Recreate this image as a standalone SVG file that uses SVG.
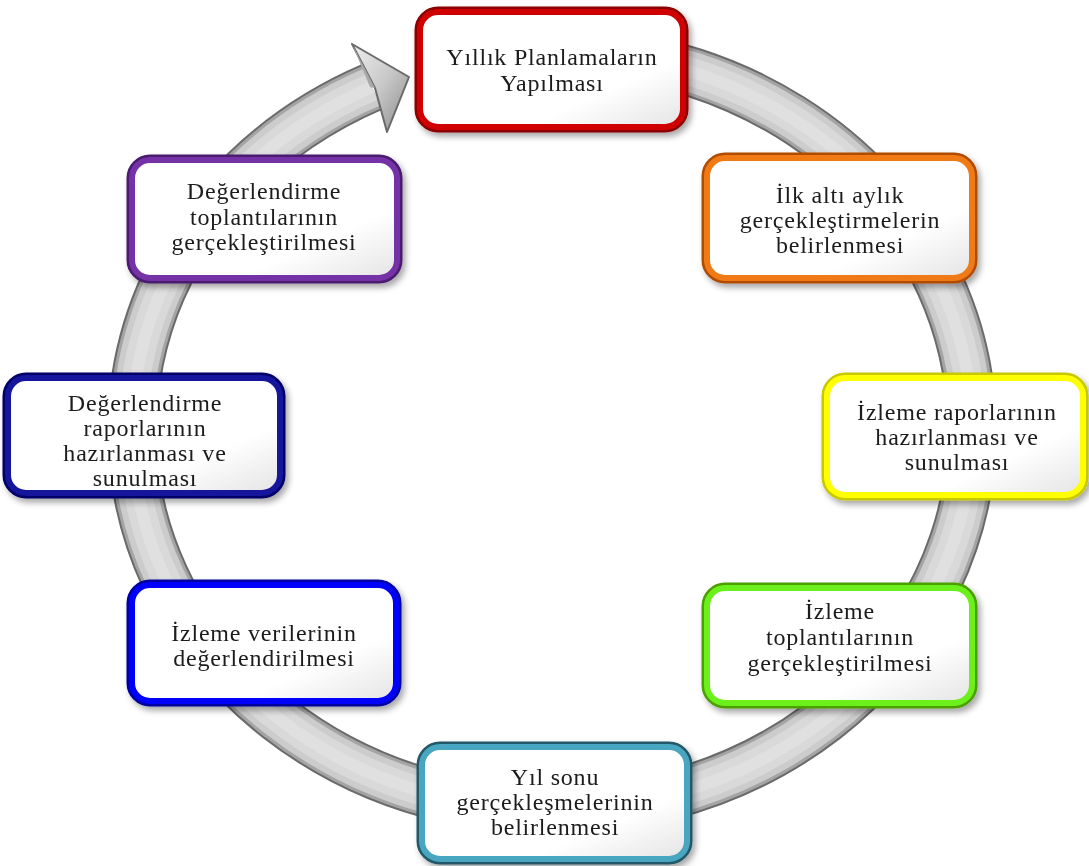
<svg xmlns="http://www.w3.org/2000/svg" width="1089" height="866" viewBox="0 0 1089 866">
<style>
.t{font-family:"Liberation Serif","Times New Roman",serif;font-size:24px;letter-spacing:0.8px;fill:#1a1a1a;text-anchor:middle}
.fill{fill:url(#wf)}
.ring{fill:none;stroke-linecap:butt}
</style>
<defs>
<linearGradient id="wf" x1="0" y1="0" x2="1" y2="1">
<stop offset="0" stop-color="#ffffff"/>
<stop offset="0.7" stop-color="#ffffff"/>
<stop offset="1" stop-color="#e4e4e4"/>
</linearGradient>
<linearGradient id="ah" x1="0" y1="0" x2="1" y2="1">
<stop offset="0" stop-color="#eeeeee"/>
<stop offset="0.5" stop-color="#c8c8c8"/>
<stop offset="1" stop-color="#8a8a8a"/>
</linearGradient>
<filter id="sh" x="-10%" y="-10%" width="125%" height="130%">
<feDropShadow dx="3" dy="4" stdDeviation="3" flood-color="#000" flood-opacity="0.35"/>
</filter>
</defs>
<rect width="1089" height="866" fill="#ffffff"/>
<g id="connectors">
<path class="ring" d="M502,53 A420,380 0 1 1 372,87" stroke="#6a6a6a" stroke-width="50"/>
<path class="ring" d="M502,53 A420,380 0 1 1 372,87" stroke="#a4a4a4" stroke-width="46"/>
<path class="ring" d="M502,53 A420,380 0 1 1 372,87" stroke="#cccccc" stroke-width="40"/>
<path class="ring" d="M502,53 A420,380 0 1 1 372,87" stroke="#d9d9d9" stroke-width="28"/>
<path class="ring" d="M502,53 A420,380 0 1 1 372,87" stroke="#e0e0e0" stroke-width="12"/>
<polygon points="352,44 409,77 387,132 375,88" fill="url(#ah)" stroke="#6a6a6a" stroke-width="2" stroke-linejoin="round"/>
<polygon points="352,44 375,88 370,87" fill="#a8a8a8"/>
</g>
<g id="n1" filter="url(#sh)">
<rect x="420" y="12" width="263" height="115" rx="18" fill="#fff" stroke="#8b0000" stroke-width="11"/>
<rect x="420" y="12" width="263" height="115" rx="18" class="fill" stroke="#d00000" stroke-width="6"/>
<text class="t" x="552" y="65">Yıllık Planlamaların</text>
<text class="t" x="552" y="91">Yapılması</text>
</g>
<g id="n2" filter="url(#sh)">
<rect x="707" y="158" width="265" height="120" rx="18" fill="#fff" stroke="#b04c00" stroke-width="11"/>
<rect x="707" y="158" width="265" height="120" rx="18" class="fill" stroke="#f07a14" stroke-width="6"/>
<text class="t" x="840" y="203">İlk altı aylık</text>
<text class="t" x="840" y="228">gerçekleştirmelerin</text>
<text class="t" x="840" y="253">belirlenmesi</text>
</g>
<g id="n3" filter="url(#sh)">
<rect x="827" y="378" width="256" height="117" rx="18" fill="#fff" stroke="#c8c800" stroke-width="11"/>
<rect x="827" y="378" width="256" height="117" rx="18" class="fill" stroke="#ffff00" stroke-width="6"/>
<text class="t" x="957" y="420">İzleme raporlarının</text>
<text class="t" x="957" y="445">hazırlanması ve</text>
<text class="t" x="957" y="470">sunulması</text>
</g>
<g id="n4" filter="url(#sh)">
<rect x="707" y="588" width="265" height="115" rx="18" fill="#fff" stroke="#4ca000" stroke-width="11"/>
<rect x="707" y="588" width="265" height="115" rx="18" class="fill" stroke="#6cf01a" stroke-width="6"/>
<text class="t" x="840" y="619">İzleme</text>
<text class="t" x="840" y="645">toplantılarının</text>
<text class="t" x="840" y="671">gerçekleştirilmesi</text>
</g>
<g id="n5" filter="url(#sh)">
<rect x="422" y="747" width="265" height="112" rx="18" fill="#fff" stroke="#215868" stroke-width="11"/>
<rect x="422" y="747" width="265" height="112" rx="18" class="fill" stroke="#4aa6c0" stroke-width="6"/>
<text class="t" x="555" y="785">Yıl sonu</text>
<text class="t" x="555" y="810">gerçekleşmelerinin</text>
<text class="t" x="555" y="835">belirlenmesi</text>
</g>
<g id="n6" filter="url(#sh)">
<rect x="132" y="585" width="264" height="116" rx="18" fill="#fff" stroke="#0000a0" stroke-width="11"/>
<rect x="132" y="585" width="264" height="116" rx="18" class="fill" stroke="#0000ff" stroke-width="6"/>
<text class="t" x="264" y="641">İzleme verilerinin</text>
<text class="t" x="264" y="666">değerlendirilmesi</text>
</g>
<g id="n7" filter="url(#sh)">
<rect x="8" y="378" width="272" height="115" rx="18" fill="#fff" stroke="#000066" stroke-width="11"/>
<rect x="8" y="378" width="272" height="115" rx="18" class="fill" stroke="#12129c" stroke-width="6"/>
<text class="t" x="145" y="411">Değerlendirme</text>
<text class="t" x="145" y="436">raporlarının</text>
<text class="t" x="145" y="461">hazırlanması ve</text>
<text class="t" x="145" y="486">sunulması</text>
</g>
<g id="n8" filter="url(#sh)">
<rect x="132" y="160" width="265" height="118" rx="18" fill="#fff" stroke="#4a1a70" stroke-width="11"/>
<rect x="132" y="160" width="265" height="118" rx="18" class="fill" stroke="#7432a6" stroke-width="6"/>
<text class="t" x="264" y="199">Değerlendirme</text>
<text class="t" x="264" y="225">toplantılarının</text>
<text class="t" x="264" y="250">gerçekleştirilmesi</text>
</g>
</svg>
